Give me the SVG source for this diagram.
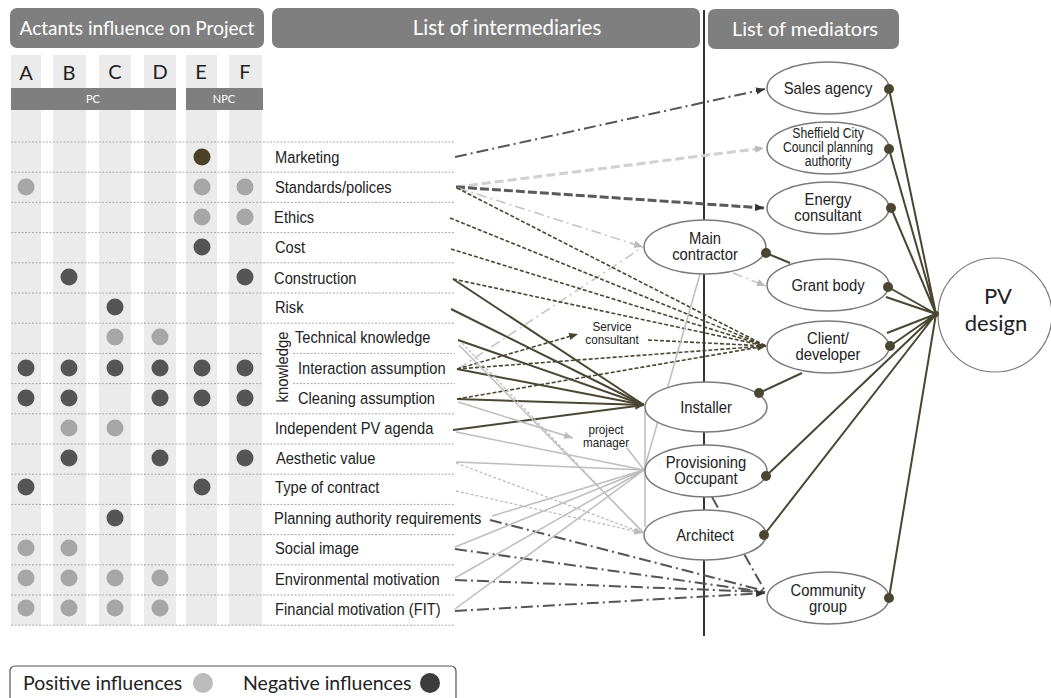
<svg xmlns="http://www.w3.org/2000/svg" width="1051" height="698" viewBox="0 0 1051 698">
<style>
.hdr{fill:#7f7f7f}
.hdrt{font-family:Lato,"Open Sans",sans-serif;font-size:19px;fill:#fff;text-anchor:middle}
.col{font-family:Lato,"Open Sans",sans-serif;font-size:20px;fill:#222;text-anchor:middle}
.band{fill:#ebebeb}
.row{stroke:#a8a8a8;stroke-width:1;stroke-dasharray:2 1.5;fill:none}
.lbl{font-family:"Liberation Sans",Arial,sans-serif;font-size:16.5px;fill:#222}
.sm{font-family:"Liberation Sans",Arial,sans-serif;font-size:13px;fill:#222;text-anchor:middle}
.nd{font-family:"Liberation Sans",Arial,sans-serif;font-size:17px;fill:#222;text-anchor:middle}
.nds{font-family:"Liberation Sans",Arial,sans-serif;font-size:14px;fill:#222;text-anchor:middle}
.pos{fill:#a6a6a6}
.neg{fill:#555}
.ell{fill:#fff;stroke:#7a7a7a;stroke-width:1.5}
.dd{stroke:#555;stroke-width:2;fill:none;stroke-dasharray:12 4 2 4}
.ld{stroke:#c2c2c2;stroke-width:1.5;fill:none;stroke-dasharray:10 4 2 4}
.fd{stroke:#4b4632;stroke-width:1.6;fill:none;stroke-dasharray:4 2}
.so{stroke:#4b4632;stroke-width:2;fill:none}
.ls{stroke:#bdbdbd;stroke-width:1.5;fill:none}
.lf{stroke:#bdbdbd;stroke-width:1.3;fill:none;stroke-dasharray:3 2}
.hub{stroke:#4b4632;stroke-width:2;fill:none}
.dot{fill:#4b4632}
.leg{font-family:Lato,"Open Sans",sans-serif;font-size:19.5px;fill:#222}
.pv{font-family:Lato,"Open Sans",sans-serif;font-size:22px;fill:#222;text-anchor:middle}
</style>
<defs>
<marker id="ad" viewBox="0 0 10 10" refX="10" refY="5" markerWidth="9" markerHeight="9" markerUnits="userSpaceOnUse" orient="auto"><path d="M0,1 L10,5 L0,9 z" fill="#333"/></marker>
<marker id="al" viewBox="0 0 10 10" refX="10" refY="5" markerWidth="9" markerHeight="9" markerUnits="userSpaceOnUse" orient="auto"><path d="M0,1 L10,5 L0,9 z" fill="#bbb"/></marker>
<marker id="ao" viewBox="0 0 10 10" refX="10" refY="5" markerWidth="9" markerHeight="9" markerUnits="userSpaceOnUse" orient="auto"><path d="M0,1 L10,5 L0,9 z" fill="#4b4632"/></marker>
</defs>
<rect width="1051" height="698" fill="#fff"/>

<g id="headers">
<rect class="hdr" x="10" y="8" width="254" height="40" rx="7"/>
<text class="hdrt" x="137" y="35">Actants influence on Project</text>
<rect class="hdr" x="272" y="8" width="428" height="40" rx="7"/>
<text class="hdrt" x="507" y="35" style="font-size:20.5px">List of intermediaries</text>
<rect class="hdr" x="708" y="9" width="191" height="40" rx="7"/>
<text class="hdrt" x="805" y="36" style="font-size:20px">List of mediators</text>
</g>

<g id="grid">
<rect class="band" x="11" y="55" width="30" height="570"/>
<rect class="band" x="53" y="55" width="33" height="570"/>
<rect class="band" x="99" y="55" width="32" height="570"/>
<rect class="band" x="144" y="55" width="32" height="570"/>
<rect class="band" x="186" y="55" width="31" height="570"/>
<rect class="band" x="229" y="55" width="33" height="570"/>
<text class="col" x="26" y="80">A</text>
<text class="col" x="69" y="80">B</text>
<text class="col" x="115" y="79">C</text>
<text class="col" x="160" y="79">D</text>
<text class="col" x="201" y="79">E</text>
<text class="col" x="245" y="79">F</text>
<rect class="hdr" x="11" y="88" width="165" height="22"/>
<rect class="hdr" x="186" y="88" width="77" height="22"/>
<text x="93" y="103" font-family="Lato,sans-serif" font-size="11" fill="#fff" text-anchor="middle">PC</text>
<text x="224" y="103" font-family="Lato,sans-serif" font-size="11" fill="#fff" text-anchor="middle">NPC</text>
<path class="row" d="M11,142H455M11,172.2H455M11,202.4H455M11,232.6H455M11,262.8H455M11,293H455M11,323.2H455M11,353.4H263M293,353.4H455M11,383.6H263M293,383.6H455M11,413.8H455M11,444H455M11,474.2H455M11,504.4H455M11,534.6H455M11,564.8H455M11,595H455M11,625.2H455"/>
</g>

<g id="dots">
<circle cx="202" cy="157" r="8.5" fill="#4a4226"/>
<circle class="pos" cx="26" cy="187" r="8.5"/><circle class="pos" cx="202" cy="187" r="8.5"/><circle class="pos" cx="245" cy="187" r="8.5"/>
<circle class="pos" cx="202" cy="217" r="8.5"/><circle class="pos" cx="245" cy="217" r="8.5"/>
<circle class="neg" cx="202" cy="247" r="8.5"/>
<circle class="neg" cx="69" cy="277" r="8.5"/><circle class="neg" cx="245" cy="277" r="8.5"/>
<circle class="neg" cx="115" cy="307" r="8.5"/>
<circle class="pos" cx="115" cy="337" r="8.5"/><circle class="pos" cx="160" cy="337" r="8.5"/>
<circle class="neg" cx="26" cy="368" r="8.5"/><circle class="neg" cx="69" cy="368" r="8.5"/><circle class="neg" cx="115" cy="368" r="8.5"/><circle class="neg" cx="160" cy="368" r="8.5"/><circle class="neg" cx="202" cy="368" r="8.5"/><circle class="neg" cx="245" cy="368" r="8.5"/>
<circle class="neg" cx="26" cy="398" r="8.5"/><circle class="neg" cx="69" cy="398" r="8.5"/><circle class="neg" cx="160" cy="398" r="8.5"/><circle class="neg" cx="202" cy="398" r="8.5"/><circle class="neg" cx="245" cy="398" r="8.5"/>
<circle class="pos" cx="69" cy="428" r="8.5"/><circle class="pos" cx="115" cy="428" r="8.5"/>
<circle class="neg" cx="69" cy="458" r="8.5"/><circle class="neg" cx="160" cy="458" r="8.5"/><circle class="neg" cx="245" cy="458" r="8.5"/>
<circle class="neg" cx="26" cy="487" r="8.5"/><circle class="neg" cx="202" cy="487" r="8.5"/>
<circle class="neg" cx="115" cy="518" r="8.5"/>
<circle class="pos" cx="26" cy="548" r="8.5"/><circle class="pos" cx="69" cy="548" r="8.5"/>
<circle class="pos" cx="26" cy="578" r="8.5"/><circle class="pos" cx="69" cy="578" r="8.5"/><circle class="pos" cx="115" cy="578" r="8.5"/><circle class="pos" cx="160" cy="578" r="8.5"/>
<circle class="pos" cx="26" cy="608" r="8.5"/><circle class="pos" cx="69" cy="608" r="8.5"/><circle class="pos" cx="115" cy="608" r="8.5"/><circle class="pos" cx="160" cy="608" r="8.5"/>
</g>

<g id="labels" transform="translate(275,0) scale(0.89,1) translate(-275,0)">
<text class="lbl" x="275" y="163">Marketing</text>
<text class="lbl" x="275" y="193">Standards/polices</text>
<text class="lbl" x="274" y="223">Ethics</text>
<text class="lbl" x="275" y="253">Cost</text>
<text class="lbl" x="274" y="284">Construction</text>
<text class="lbl" x="275" y="313">Risk</text>
<text class="lbl" x="297.5" y="343">Technical knowledge</text>
<text class="lbl" x="300.8" y="374">Interaction assumption</text>
<text class="lbl" x="300.8" y="404">Cleaning assumption</text>
<text class="lbl" x="275" y="434">Independent PV agenda</text>
<text class="lbl" x="276" y="464">Aesthetic value</text>
<text class="lbl" x="275" y="493">Type of contract</text>
<text class="lbl" x="274" y="524">Planning authority requirements</text>
<text class="lbl" x="275" y="554">Social image</text>
<text class="lbl" x="275" y="585">Environmental motivation</text>
<text class="lbl" x="275" y="615">Financial motivation (FIT)</text>
</g>
<text class="lbl" transform="translate(288,367) rotate(-90) scale(0.9,1)" text-anchor="middle">knowledge</text>

<line x1="704" y1="10" x2="704" y2="636" stroke="#333" stroke-width="2"/>

<g id="connectors">
<path class="dd" d="M455,157L765,89" marker-end="url(#ad)"/>
<path class="dd" d="M490,520L765,591"/>
<path class="dd" d="M455,549L765,592"/>
<path class="dd" d="M455,580L765,592"/>
<path class="dd" d="M455,611L765,593" marker-end="url(#ad)"/>
<path class="dd" d="M712,497L765,591"/>
<path stroke="#d0d0d0" stroke-width="3" fill="none" stroke-dasharray="9 4" d="M456,187L764,148" marker-end="url(#al)"/>
<path stroke="#5a5a5a" stroke-width="3" fill="none" stroke-dasharray="9 3" d="M456,187L764,208" marker-end="url(#ad)"/>
<path class="ld" d="M458,188L643,247" marker-end="url(#al)"/>
<path class="ld" d="M458,369L643,247"/>
<path class="ld" d="M733,273L766,286" marker-end="url(#al)"/>
<path class="fd" d="M457,188L766,346"/>
<path class="fd" d="M450,218L766,346"/>
<path class="fd" d="M451,249L766,346"/>
<path class="fd" d="M453,279L766,346"/>
<path class="fd" d="M457,369L766,346"/>
<path class="fd" d="M457,399L766,346" marker-end="url(#ao)"/>
<path class="fd" d="M457,369L578,334" marker-end="url(#ao)"/>
<path class="fd" d="M648,340L766,346"/>
<path class="so" d="M453,279L644,405"/>
<path class="so" d="M451,309L644,405"/>
<path class="so" d="M458,340L644,405"/>
<path class="so" d="M457,369L644,405"/>
<path class="so" d="M457,399L644,405"/>
<path class="so" d="M453,430L644,405" marker-end="url(#ao)"/>
<path class="ls" d="M459,345L643,532"/>
<path class="ls" d="M458,402L573,438" marker-end="url(#al)"/>
<path class="ls" d="M456,432L644,470"/>
<path class="ls" d="M456,462L644,470"/>
<path class="ls" d="M492,516L644,470"/>
<path class="ls" d="M455,547L644,470"/>
<path class="ls" d="M455,578L644,470"/>
<path class="ls" d="M455,609L644,470"/>
<path class="ls" d="M627,448L644,470"/>
<path class="ls" d="M700,274L644,470"/>
<path class="ls" d="M645,410L645,527"/>
<path class="lf" d="M462,343L643,533"/>
<path class="lf" d="M456,463L643,533"/>
<path class="lf" d="M456,491L643,533" marker-end="url(#al)"/>
<path class="hub" d="M936,314L889,89M936,314L889,149M936,314L891,208M936,314L888,287M936,314L886,297M936,314L887,333M936,314L890,346M936,314L766,476M936,314L764,535M936,314L889,598"/>
<path class="hub" d="M759,393L802,373M766,253L790,263"/>
</g>

<g id="mid-labels">
<g transform="translate(612,0) scale(0.9,1) translate(-612,0)"><text class="sm" x="612" y="331">Service</text><text class="sm" x="612" y="344">consultant</text></g>
<g transform="translate(606,0) scale(0.9,1) translate(-606,0)"><text class="sm" x="606" y="434">project</text><text class="sm" x="606" y="447">manager</text></g>
</g>

<g id="n-sales"><ellipse class="ell" cx="828" cy="88" rx="61" ry="26"/><g transform="translate(828,0) scale(0.87,1) translate(-828,0)"><text class="nd" x="828" y="94">Sales agency</text></g></g>
<g id="n-sheffield"><ellipse class="ell" cx="828" cy="148" rx="61" ry="26"/><g transform="translate(828,0) scale(0.87,1) translate(-828,0)"><text class="nds" x="828" y="138">Sheffield City</text><text class="nds" x="828" y="152">Council planning</text><text class="nds" x="828" y="166">authority</text></g></g>
<g id="n-energy"><ellipse class="ell" cx="828" cy="208" rx="61" ry="26"/><g transform="translate(828,0) scale(0.87,1) translate(-828,0)"><text class="nd" x="828" y="205">Energy</text><text class="nd" x="828" y="221">consultant</text></g></g>
<g id="n-grant"><ellipse class="ell" cx="828" cy="285" rx="61" ry="26"/><g transform="translate(828,0) scale(0.87,1) translate(-828,0)"><text class="nd" x="828" y="291">Grant body</text></g></g>
<g id="n-client"><ellipse class="ell" cx="828" cy="347" rx="61" ry="26"/><g transform="translate(828,0) scale(0.87,1) translate(-828,0)"><text class="nd" x="828" y="344">Client/</text><text class="nd" x="828" y="360">developer</text></g></g>
<g id="n-community"><ellipse class="ell" cx="828" cy="598" rx="61" ry="26"/><g transform="translate(828,0) scale(0.87,1) translate(-828,0)"><text class="nd" x="828" y="596">Community</text><text class="nd" x="828" y="612">group</text></g></g>
<g id="n-main"><ellipse class="ell" cx="705" cy="247" rx="61" ry="27"/><g transform="translate(705,0) scale(0.87,1) translate(-705,0)"><text class="nd" x="705" y="244">Main</text><text class="nd" x="705" y="260">contractor</text></g></g>
<g id="n-installer"><ellipse class="ell" cx="706" cy="407" rx="61" ry="25"/><g transform="translate(706,0) scale(0.87,1) translate(-706,0)"><text class="nd" x="706" y="413">Installer</text></g></g>
<g id="n-prov"><ellipse class="ell" cx="706" cy="471" rx="61" ry="26"/><g transform="translate(706,0) scale(0.87,1) translate(-706,0)"><text class="nd" x="706" y="468">Provisioning</text><text class="nd" x="706" y="484">Occupant</text></g></g>
<g id="n-arch"><ellipse class="ell" cx="705" cy="535" rx="61" ry="25"/><g transform="translate(705,0) scale(0.87,1) translate(-705,0)"><text class="nd" x="705" y="541">Architect</text></g></g>
<g id="n-pv"><circle cx="995" cy="315" r="57" fill="#fff" stroke="#7a7a7a" stroke-width="1.2"/><text class="pv" x="998" y="304">PV</text><text class="pv" x="996" y="331">design</text></g>

<g id="enddots">
<circle class="dot" cx="889" cy="89" r="5"/><circle class="dot" cx="889" cy="149" r="5"/><circle class="dot" cx="891" cy="208" r="5"/><circle class="dot" cx="888" cy="287" r="5"/><circle class="dot" cx="890" cy="346" r="5"/><circle class="dot" cx="889" cy="598" r="5"/><circle class="dot" cx="766" cy="476" r="5"/><circle class="dot" cx="764" cy="535" r="5"/><circle class="dot" cx="759" cy="393" r="5"/><circle class="dot" cx="766" cy="253" r="5"/><circle class="dot" cx="936" cy="314" r="3"/>
</g>

<g id="legend">
<rect x="10" y="666" width="446" height="40" rx="5" fill="#fff" stroke="#555" stroke-width="1.2"/>
<text class="leg" x="23" y="690">Positive influences</text>
<circle cx="203" cy="683" r="10" fill="#bcbcbc"/>
<text class="leg" x="243" y="690">Negative influences</text>
<circle cx="430" cy="683" r="10" fill="#3c3c3c"/>
</g>
</svg>
